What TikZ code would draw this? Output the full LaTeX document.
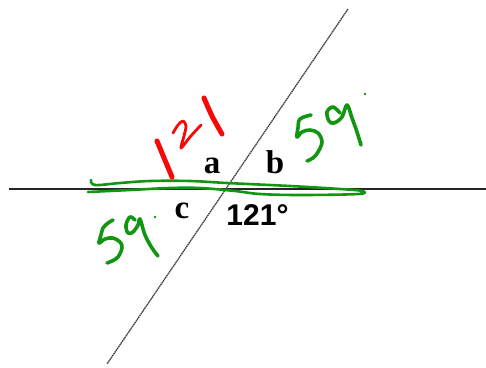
\documentclass[tikz,border=0pt]{standalone}
\usepackage{fontspec}
\setmainfont{Liberation Serif}
\setsansfont{Liberation Sans}
\definecolor{inkgreen}{RGB}{18,150,18}
\definecolor{inkred}{RGB}{245,10,10}
\tikzset{
  lbl/.style={anchor=base, inner sep=0pt, font=\fontsize{33}{33}\selectfont\bfseries},
  deg/.style={anchor=base, inner sep=0pt, font=\fontsize{30}{30}\selectfont\sffamily\bfseries},
  hand/.style={line cap=round, line join=round},
  gink/.style={hand, draw=inkgreen, line width=3.6pt},
  rthick/.style={hand, draw=inkred, line width=5pt},
  rthin/.style={hand, draw=inkred, line width=2.8pt},
  baseline/.style={draw=black!85, line width=2pt},
  transversal/.style={draw=black!75, line width=1.3pt, dash pattern=on 1.6pt off 0.6pt}
}
\begin{document}
\begin{tikzpicture}[x=1pt,y=-1pt]
\useasboundingbox (0,0) rectangle (486,367);
% lines
\coordinate (hl) at (9,189);
\coordinate (hr) at (486,189);
\coordinate (dt) at (348,9);
\coordinate (db) at (107,364);
\coordinate (O) at (227,189);
\draw[baseline] (hl) -- (hr);
\draw[transversal] (dt) -- (db);
% green underline scribble
\draw[gink, line width=2.6pt] plot[smooth, tension=0.6] coordinates {(91,180) (95,185) (120,183) (150,181) (190,181) (227,183) (290,186) (340,189) (362,191) (358,194) (300,195) (260,194) (235,191) (200,188) (170,188) (130,190) (88,192)};
% labels
\node[lbl] (a) at (212,173) {a};
\node[lbl] (b) at (275,173) {b};
\node[lbl] (c) at (182,218) {c};
\node[deg] (ang) at (257.5,225) {121°};
% red 121
\draw[rthick] (157,141) -- (172,177);
\draw[rthin] plot[smooth, tension=0.55] coordinates {(173,133) (178,125) (183,121) (186,126) (184,136) (181,148) (190,137) (201,125)};
\draw[rthick] plot[smooth] coordinates {(204,98) (212,116) (222,134)};
% green 59 top right
\draw[gink] plot[smooth, tension=0.6] coordinates {(311,115) (300,119) (298,128) (297,137) (302,132) (310,130) (318,133) (322,142) (318,152) (313,158) (307,161)};
\draw[gink] plot[smooth, tension=0.6] coordinates {(340,113) (333,107) (327,112) (329,121) (334,123) (342,117) (347,105) (352,118) (357,132) (361,145)};
\fill[inkgreen] (365,94) circle (1.4);
% green 59 bottom left
\draw[gink] plot[smooth, tension=0.6] coordinates {(113,220) (108,223) (103,228) (101,235) (99,243) (105,239) (113,238) (120,242) (122,248) (118,257) (112,261) (107,263)};
\draw[gink] plot[smooth, tension=0.6] coordinates {(135,220) (130,217) (126,225) (128,233) (133,232) (138,225) (140,219) (145,235) (152,248) (158,256)};
\fill[inkgreen] (155,217) circle (1.4);
\end{tikzpicture}
\end{document}
